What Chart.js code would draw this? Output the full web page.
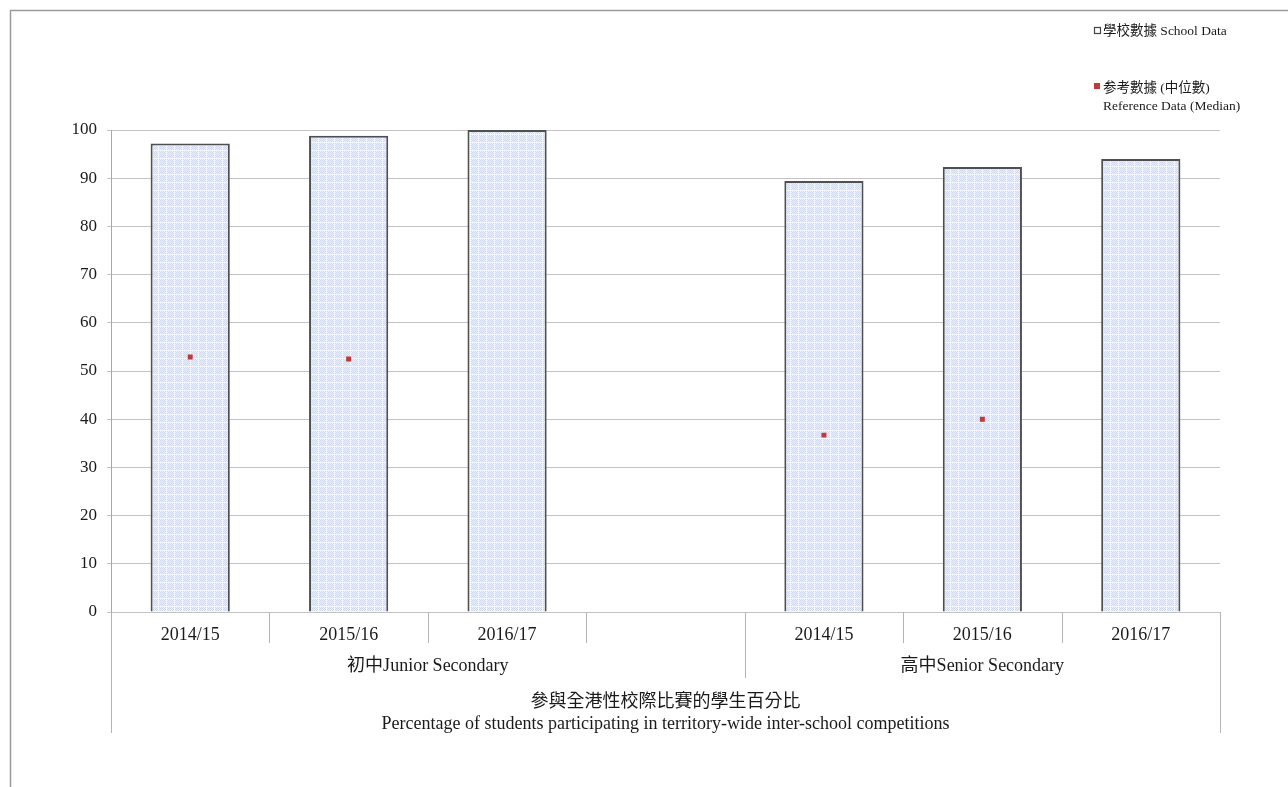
<!DOCTYPE html>
<html>
<head>
<meta charset="utf-8">
<title>參與全港性校際比賽的學生百分比</title>
<script src="https://cdn.jsdelivr.net/npm/chart.js@4.4.1/dist/chart.umd.min.js"></script>
<style>
  html, body { margin: 0; padding: 0; background: #ffffff; }
  #wrap { width: 1288px; height: 787px; position: relative; }
</style>
</head>
<body>
<div id="wrap"><canvas id="chart" width="1288" height="787"></canvas></div>
<script>
// Year labels along the x axis (4th slot is a spacer between the two groups)
const categories = ['2014/15', '2015/16', '2016/17', '', '2014/15', '2015/16', '2016/17'];
// Percentage of students — school data (bars)
const schoolData = [97.2, 98.8, 100, null, 89.4, 92.3, 94.0];
// Percentage of students — reference median (points)
const medianData = [52.9, 52.5, null, null, 36.7, 40.0, null];
// Group labels: [label, first category index, last category index]
const groups = [['初中Junior Secondary', 0, 3], ['高中Senior Secondary', 4, 6]];
const yTicks = [0, 10, 20, 30, 40, 50, 60, 70, 80, 90, 100];
const axisTitle = ['參與全港性校際比賽的學生百分比', 'Percentage of students participating in territory-wide inter-school competitions'];
const legendSchool = '學校數據 School Data';
const legendMedian = ['参考數據 (中位數)', 'Reference Data (Median)'];

const FONT = "'Liberation Serif', 'Noto Sans CJK TC', serif";
const TEXT = '#1a1a1a';

// Light dotted-blue fill used inside the bars
function makePattern() {
  const c = document.createElement('canvas');
  c.width = 8; c.height = 8;
  const g = c.getContext('2d');
  g.fillStyle = '#e8edf7';
  g.fillRect(0, 0, 8, 8);
  for (let y = 0; y < 8; y++) {
    for (let x = 0; x < 8; x++) {
      if ((x + y) % 2 === 0) { g.fillStyle = '#d2dbee'; g.fillRect(x, y, 1, 1); }
    }
  }
  g.fillStyle = '#f5f7fc';
  g.fillRect(0, 6, 8, 1);
  g.fillRect(6, 0, 1, 8);
  return g.createPattern(c, 'repeat');
}

// Outer frame, category dividers, group labels, axis title and legend
const decorations = {
  id: 'decorations',
  beforeDraw(chart) {
    const ctx = chart.ctx;
    ctx.save();
    ctx.strokeStyle = '#9a9a9a';
    ctx.lineWidth = 1.5;
    ctx.beginPath();
    ctx.moveTo(10.5, chart.height);
    ctx.lineTo(10.5, 10.5);
    ctx.lineTo(chart.width, 10.5);
    ctx.stroke();
    ctx.restore();
  },
  afterDraw(chart) {
    const ctx = chart.ctx;
    const x = chart.scales.x;
    const area = chart.chartArea;
    const half = (x.getPixelForValue(1) - x.getPixelForValue(0)) / 2;
    const edge = i => x.getPixelForValue(i) - half;
    const n = categories.length;
    ctx.save();
    ctx.strokeStyle = '#b4b4b4';
    ctx.lineWidth = 1;
    for (let i = 0; i <= n; i++) {
      let len = 31;
      if (i === 0 || i === n) len = 121;
      else if (groups.some(g => g[1] === i)) len = 66;
      const px = Math.round(edge(i)) + 0.5;
      ctx.beginPath();
      ctx.moveTo(px, area.bottom);
      ctx.lineTo(px, area.bottom + len);
      ctx.stroke();
    }
    ctx.fillStyle = TEXT;
    ctx.textAlign = 'center';
    ctx.textBaseline = 'middle';
    ctx.font = '18px ' + FONT;
    groups.forEach(([label, a, b]) => {
      const cx = (edge(a) + edge(b + 1)) / 2;
      ctx.fillText(label, cx, area.bottom + 54);
    });
    const mid = (area.left + area.right) / 2;
    ctx.font = '18px ' + FONT;
    ctx.fillText(axisTitle[0], mid, area.bottom + 90);
    ctx.fillText(axisTitle[1], mid, area.bottom + 112);

    // legend
    ctx.textAlign = 'left';
    ctx.font = '13.5px ' + FONT;
    ctx.strokeStyle = '#444';
    ctx.lineWidth = 1.2;
    ctx.fillStyle = '#ffffff';
    ctx.fillRect(1094.5, 27.5, 6, 6);
    ctx.strokeRect(1094.5, 27.5, 6, 6);
    ctx.fillStyle = TEXT;
    ctx.fillText(legendSchool, 1103, 31);
    ctx.fillStyle = '#c0393b';
    ctx.fillRect(1094, 83, 6, 6);
    ctx.fillStyle = TEXT;
    ctx.fillText(legendMedian[0], 1103, 88);
    ctx.fillText(legendMedian[1], 1103, 106);
    ctx.restore();
  }
};

new Chart(document.getElementById('chart'), {
  type: 'bar',
  data: {
    labels: categories,
    datasets: [
      {
        label: legendSchool,
        data: schoolData,
        backgroundColor: makePattern(),
        borderColor: '#505050',
        borderWidth: 2,
        categoryPercentage: 1.0,
        barPercentage: 0.5,
        order: 2
      },
      {
        type: 'line',
        label: legendMedian.join(' '),
        data: medianData,
        showLine: false,
        pointStyle: 'rect',
        pointRadius: 3.5,
        pointHoverRadius: 3.5,
        pointBackgroundColor: '#c0393b',
        pointBorderColor: '#c0393b',
        pointBorderWidth: 0,
        order: 1
      }
    ]
  },
  options: {
    responsive: false,
    animation: false,
    events: [],
    layout: { padding: { left: 0, top: 130, right: 68, bottom: 0 } },
    plugins: {
      legend: { display: false },
      tooltip: { enabled: false },
      title: { display: false }
    },
    scales: {
      x: {
        offset: true,
        grid: { display: false, drawTicks: false },
        border: { display: false },
        ticks: {
          padding: 12,
          color: TEXT,
          font: { family: FONT, size: 18 },
          maxRotation: 0,
          autoSkip: false
        },
        afterFit(scale) { scale.height = 175; }
      },
      y: {
        min: 0,
        max: 100,
        afterBuildTicks(scale) { scale.ticks = yTicks.map(v => ({ value: v })); },
        grid: { color: '#c4c4c4', lineWidth: 1, tickLength: 4, drawTicks: true },
        border: { color: '#a8a8a8', width: 1 },
        ticks: {
          padding: 10,
          color: TEXT,
          font: { family: FONT, size: 17 }
        },
        afterFit(scale) { scale.width = 111; }
      }
    }
  },
  plugins: [decorations]
});
</script>
</body>
</html>
